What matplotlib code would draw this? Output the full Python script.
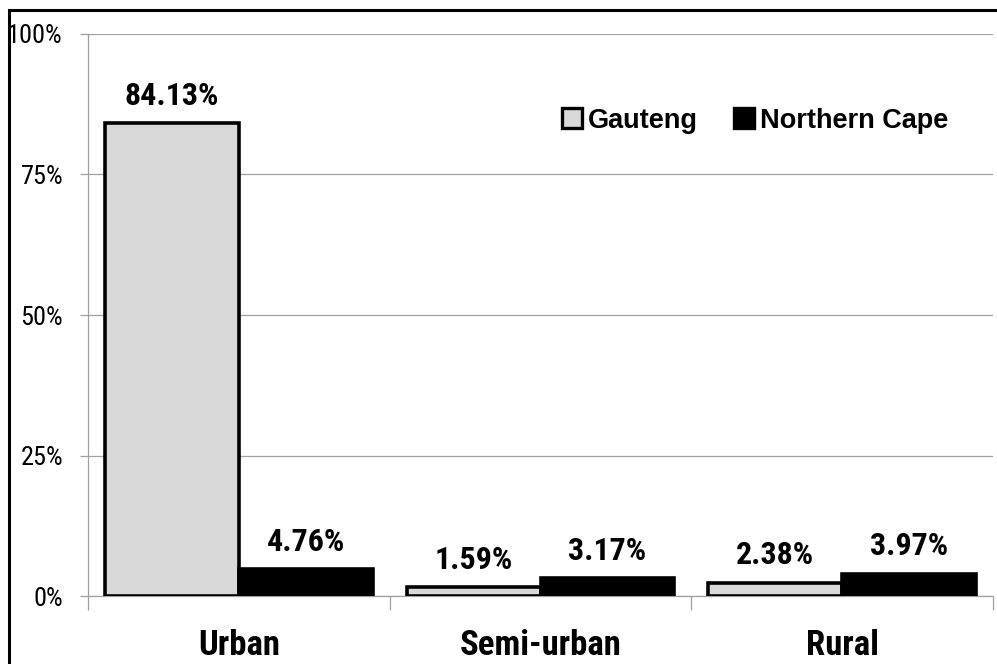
import numpy as np
import matplotlib
matplotlib.use('Agg')
import matplotlib.pyplot as plt
from matplotlib.patches import Rectangle
from matplotlib.lines import Line2D

plt.rcParams['font.family'] = ['Roboto Condensed', 'Liberation Sans', 'DejaVu Sans']

# ── 데이터 ──
categories = ['Urban', 'Semi-urban', 'Rural']
series_names = ['Gauteng', 'Northern Cape']
gauteng = [84.13, 1.59, 2.38]
northern_cape = [4.76, 3.17, 3.97]
y_ticks = [0, 25, 50, 75, 100]

fig = plt.figure(figsize=(9.97, 6.64), dpi=100)
ax = fig.add_axes([0.0883, 0.1024, 0.9077, 0.8464])

# 바깥 테두리 (왼쪽/위만 보임)
fig.patches.append(Rectangle((9 / 997, -0.1), 1.2, 1 - 10 / 664 + 0.1,
                             transform=fig.transFigure, fill=False,
                             edgecolor='black', linewidth=2.2))

x = np.arange(len(categories))
w = 0.444
ax.bar(x - w / 2, gauteng, w, color='#d9d9d9', edgecolor='black',
       linewidth=2.6, zorder=3)
ax.bar(x + w / 2, northern_cape, w, color='black', edgecolor='black',
       linewidth=2.6, zorder=3)

for xi, v in zip(x - w / 2, gauteng):
    ax.text(xi, v + 2.2, f'{v:.2f}%', ha='center', va='bottom',
            fontsize=23, fontweight='bold')
for xi, v in zip(x + w / 2, northern_cape):
    ax.text(xi, v + 2.2, f'{v:.2f}%', ha='center', va='bottom',
            fontsize=23, fontweight='bold')

ax.set_xlim(-0.5, len(categories) - 0.5)
ax.set_ylim(0, 100)
ax.set_yticks(y_ticks)
ax.set_yticklabels([f'{t}%' for t in y_ticks], fontsize=19)
ax.yaxis.grid(True, color='#a0a0a0', linewidth=0.9, zorder=0)
ax.tick_params(axis='y', length=6, color='#a0a0a0', width=0.9, pad=12)

# 카테고리 경계 눈금
ax.set_xticks(np.arange(len(categories) + 1) - 0.5, minor=False)
ax.set_xticklabels([''] * (len(categories) + 1))
ax.tick_params(axis='x', length=10, color='#a0a0a0', width=0.9)
ax.set_xticks(x, minor=True)
ax.set_xticklabels(categories, minor=True, fontsize=25, fontweight='bold')
ax.tick_params(axis='x', which='minor', length=0, pad=24)

for s in ['top', 'right']:
    ax.spines[s].set_visible(False)
ax.spines['left'].set_color('#a0a0a0')
ax.spines['bottom'].set_color('#a0a0a0')
ax.spines['left'].set_linewidth(0.9)
ax.spines['bottom'].set_linewidth(0.9)
ax.set_facecolor('none')

handles = [Line2D([], [], marker='s', linestyle='none', markersize=14,
                  markerfacecolor='#d9d9d9', markeredgecolor='black', markeredgewidth=2.4),
           Line2D([], [], marker='s', linestyle='none', markersize=14,
                  markerfacecolor='black', markeredgecolor='black', markeredgewidth=2.4)]
leg = ax.legend(handles, series_names, loc='upper right', bbox_to_anchor=(0.978, 0.912),
                ncol=2, frameon=False, handletextpad=0.1, columnspacing=1.2,
                handlelength=1.0,
                prop={'size': 19.5, 'weight': 'bold', 'family': 'Liberation Sans'})

fig.savefig('out.png', dpi=100)
